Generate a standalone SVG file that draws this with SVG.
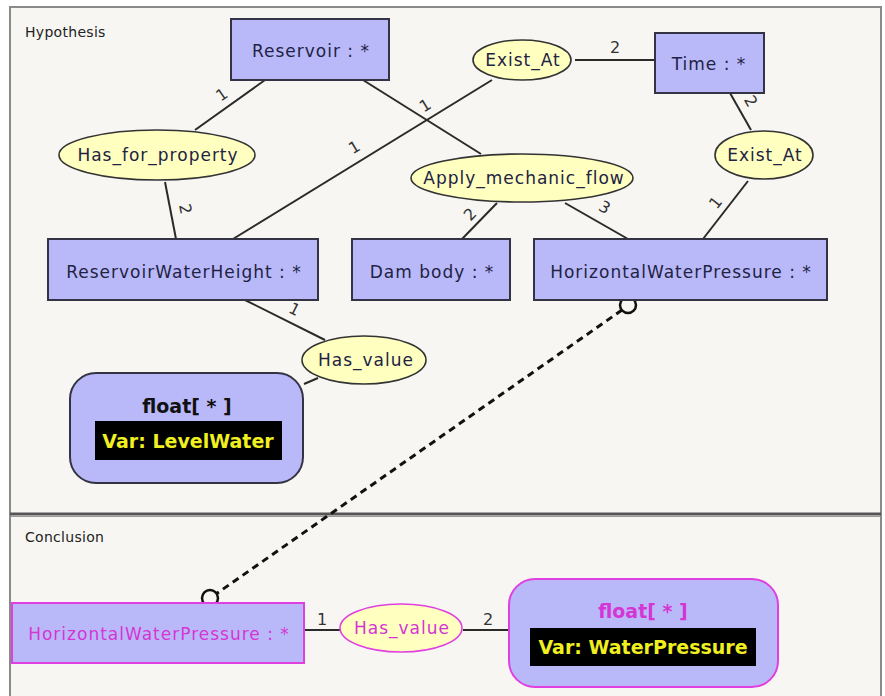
<svg xmlns="http://www.w3.org/2000/svg" width="885" height="696" viewBox="0 0 885 696">
<style>
.bg{fill:#f8f6f3}
.frame{fill:none;stroke:#8a8a8a;stroke-width:2}
.box{fill:#b9b9f9;stroke:#333344;stroke-width:2}
.ell{fill:#ffffc0;stroke:#333333;stroke-width:1.6}
.cbox{fill:#b9b9f9;stroke:#e040e0;stroke-width:2}
.cell{fill:#ffffc0;stroke:#e040e0;stroke-width:1.6}
.t{font-family:"DejaVu Sans",Verdana,sans-serif;font-size:17px;letter-spacing:1px;fill:#222244;text-anchor:middle}
.tm{font-family:"DejaVu Sans",Verdana,sans-serif;font-size:17px;letter-spacing:1px;fill:#d535d5;text-anchor:middle}
.b{font-family:"DejaVu Sans",Verdana,sans-serif;font-size:19px;font-weight:bold;fill:#111111;text-anchor:middle}
.bm{font-family:"DejaVu Sans",Verdana,sans-serif;font-size:19px;font-weight:bold;fill:#d535d5;text-anchor:middle}
.var{font-family:"DejaVu Sans",Verdana,sans-serif;font-size:19px;font-weight:bold;fill:#f0f020;text-anchor:middle}
.sec{font-family:"DejaVu Sans",Tahoma,sans-serif;font-size:14px;letter-spacing:0.3px;fill:#222222}
.lab{font-family:"DejaVu Sans",sans-serif;font-size:16px;fill:#333333;text-anchor:middle}
.edge{stroke:#2a2a2a;stroke-width:2;fill:none}
.dash{stroke:#111111;stroke-width:3;stroke-dasharray:7,5;fill:none}
.ring{fill:none;stroke:#111111;stroke-width:2.5}
</style>
<rect x="0" y="0" width="885" height="696" fill="#ffffff"/>
<rect class="bg" x="10" y="7" width="871" height="689"/>
<path class="frame" d="M10,696 V7 H881 V696"/>
<line x1="10" y1="514" x2="881" y2="514" stroke="#555555" stroke-width="3"/>
<line x1="10" y1="516.5" x2="881" y2="516.5" stroke="#9a9a9a" stroke-width="1"/>
<text class="sec" x="25" y="37">Hypothesis</text>
<text class="sec" x="25" y="542">Conclusion</text>

<g id="connectors">
  <line class="edge" x1="265" y1="80" x2="195" y2="130"/>
  <line class="edge" x1="165" y1="182" x2="176" y2="239"/>
  <line class="edge" x1="363" y1="80" x2="481" y2="154"/>
  <line class="edge" x1="492" y1="80" x2="233" y2="239"/>
  <line class="edge" x1="575" y1="60" x2="655" y2="60"/>
  <line class="edge" x1="730" y1="93" x2="751" y2="130"/>
  <line class="edge" x1="748" y1="181" x2="703" y2="239"/>
  <line class="edge" x1="497" y1="203" x2="462" y2="239"/>
  <line class="edge" x1="565" y1="203" x2="628" y2="239"/>
  <line class="edge" x1="245" y1="300" x2="325" y2="340"/>
  <line class="edge" x1="304" y1="384" x2="318" y2="378"/>
  <line class="edge" x1="304" y1="630" x2="340" y2="630"/>
  <line class="edge" x1="463" y1="630" x2="509" y2="630"/>
  <line class="dash" x1="622" y1="310" x2="216" y2="594"/>
  <circle class="ring" cx="628" cy="305" r="8"/>
  <circle class="ring" cx="210" cy="598" r="8"/>
  <text class="lab" transform="translate(225,99) rotate(-35)">1</text>
  <text class="lab" transform="translate(180,210) rotate(79)">2</text>
  <text class="lab" transform="translate(428,110) rotate(-32)">1</text>
  <text class="lab" transform="translate(357,152) rotate(-31)">1</text>
  <text class="lab" x="615" y="53">2</text>
  <text class="lab" transform="translate(746,104) rotate(60)">2</text>
  <text class="lab" transform="translate(720,206) rotate(-52)">1</text>
  <text class="lab" transform="translate(474,218) rotate(-46)">2</text>
  <text class="lab" transform="translate(602,212) rotate(30)">3</text>
  <text class="lab" transform="translate(292,314) rotate(27)">1</text>
  <text class="lab" style="font-size:11px" transform="translate(309,371) rotate(70)">2</text>
  <text class="lab" x="322" y="625">1</text>
  <text class="lab" x="488" y="625">2</text>
</g>

<g id="reservoir">
  <rect class="box" x="231" y="19" width="158" height="61"/>
  <text class="t" x="311" y="57">Reservoir : *</text>
</g>
<g id="time">
  <rect class="box" x="655" y="33" width="109" height="60"/>
  <text class="t" x="709" y="70">Time : *</text>
</g>
<g id="exist-at-1">
  <ellipse class="ell" cx="522" cy="60" rx="49" ry="20"/>
  <text class="t" x="523" y="66">Exist_At</text>
</g>
<g id="has-for-property">
  <ellipse class="ell" cx="157" cy="155" rx="98" ry="25"/>
  <text class="t" x="158" y="161">Has_for_property</text>
</g>
<g id="apply-mechanic-flow">
  <ellipse class="ell" cx="522" cy="178" rx="111" ry="24"/>
  <text class="t" x="524" y="184">Apply_mechanic_flow</text>
</g>
<g id="exist-at-2">
  <ellipse class="ell" cx="764" cy="155" rx="49" ry="24"/>
  <text class="t" x="765" y="161">Exist_At</text>
</g>
<g id="reservoir-water-height">
  <rect class="box" x="48" y="239" width="270" height="61"/>
  <text class="t" x="184" y="278">ReservoirWaterHeight : *</text>
</g>
<g id="dam-body">
  <rect class="box" x="352" y="239" width="158" height="61"/>
  <text class="t" x="432" y="278">Dam body : *</text>
</g>
<g id="horizontal-water-pressure">
  <rect class="box" x="534" y="239" width="293" height="61"/>
  <text class="t" x="681" y="278">HorizontalWaterPressure : *</text>
</g>
<g id="has-value-1">
  <ellipse class="ell" cx="364" cy="360" rx="62" ry="24"/>
  <text class="t" x="366" y="366">Has_value</text>
</g>
<g id="float-level-water">
  <rect class="box" x="70" y="373" width="233" height="110" rx="26"/>
  <text class="b" x="187" y="413">float[ * ]</text>
  <rect x="95" y="421" width="187" height="39" fill="#000000"/>
  <text class="var" x="188" y="448">Var: LevelWater</text>
</g>

<g id="c-horizontal-water-pressure">
  <rect class="cbox" x="12" y="603" width="292" height="60"/>
  <text class="tm" x="159" y="640">HorizontalWaterPressure : *</text>
</g>
<g id="c-has-value">
  <ellipse class="cell" cx="401" cy="628" rx="61" ry="24"/>
  <text class="tm" x="402" y="634">Has_value</text>
</g>
<g id="c-float-water-pressure">
  <rect class="cbox" x="509" y="579" width="269" height="108" rx="26"/>
  <text class="bm" x="643" y="618">float[ * ]</text>
  <rect x="530" y="628" width="226" height="38" fill="#000000"/>
  <text class="var" x="643" y="654">Var: WaterPressure</text>
</g>
</svg>
